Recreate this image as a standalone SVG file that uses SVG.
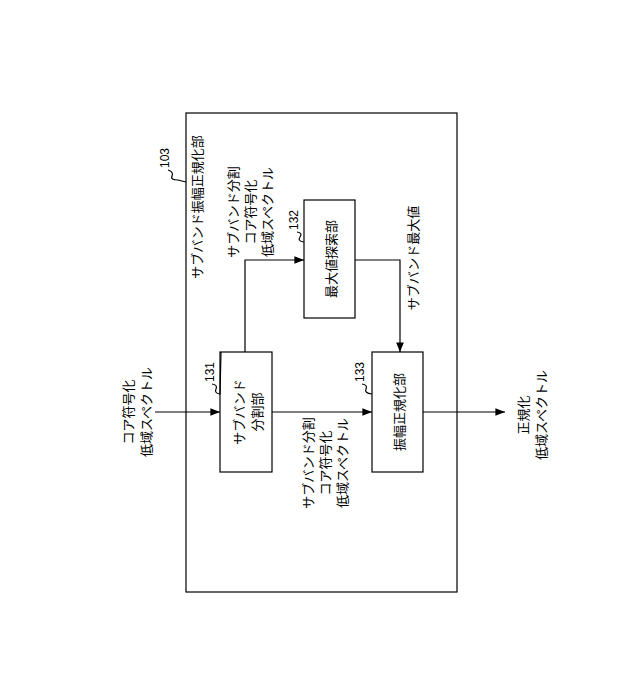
<svg xmlns="http://www.w3.org/2000/svg" width="640" height="689" viewBox="0 0 640 689">
<style>
text{font-family:"Noto Sans CJK JP","Liberation Sans",sans-serif;font-size:13px;fill:#000;text-anchor:middle;dominant-baseline:central}
.n{font-family:"Liberation Sans",sans-serif;font-size:12px}
rect{fill:#fff;stroke:#000;stroke-width:1.2}
.c path,.s{fill:none;stroke:#000;stroke-width:1.2}
</style>
<defs><marker id="a" viewBox="0 0 10 10" refX="10" refY="5" markerWidth="8" markerHeight="8" orient="auto"><path d="M0,1L10,5L0,9z" fill="#000"/></marker></defs>
<rect width="640" height="689" style="fill:#fff;stroke:none"/>
<g id="n103">
<rect x="186" y="113" width="271" height="479"/>
<text transform="translate(196,207) rotate(-90)">サブバンド振幅正規化部</text>
<text class="n" transform="translate(165,158) rotate(-90)">103</text>
<path class="s" d="M168,170 q6,2 4,6 q-2,4 6,4 L186,182"/>
</g>
<g id="n131">
<rect x="220" y="352" width="52" height="120"/>
<text transform="translate(238,412) rotate(-90)">サブバンド</text>
<text transform="translate(256,412) rotate(-90)">分割部</text>
<text class="n" transform="translate(210,372) rotate(-90)">131</text>
<path class="s" d="M212,384 q6,1 4,5 q-2,4 4,5 L221,352"/>
</g>
<g id="n132">
<rect x="304" y="200" width="51" height="118"/>
<text transform="translate(330,259) rotate(-90)">最大値探索部</text>
<text class="n" transform="translate(294,220) rotate(-90)">132</text>
<path class="s" d="M297,232 q6,1 3,5 q-3,4 4,5"/>
</g>
<g id="n133">
<rect x="372" y="352" width="51" height="120"/>
<text transform="translate(398,412) rotate(-90)">振幅正規化部</text>
<text class="n" transform="translate(360,372) rotate(-90)">133</text>
<path class="s" d="M362,384 q6,1 4,5 q-2,4 6,5"/>
</g>
<g id="labels">
<text transform="translate(127,412) rotate(-90)">コア符号化</text>
<text transform="translate(145,412) rotate(-90)">低域スペクトル</text>
<text transform="translate(232,212) rotate(-90)">サブバンド分割</text>
<text transform="translate(249,212) rotate(-90)">コア符号化</text>
<text transform="translate(266,212) rotate(-90)">低域スペクトル</text>
<text transform="translate(412,258) rotate(-90)">サブバンド最大値</text>
<text transform="translate(307,463) rotate(-90)">サブバンド分割</text>
<text transform="translate(324,463) rotate(-90)">コア符号化</text>
<text transform="translate(341,463) rotate(-90)">低域スペクトル</text>
<text transform="translate(522,415) rotate(-90)">正規化</text>
<text transform="translate(540,415) rotate(-90)">低域スペクトル</text>
</g>
<g id="connectors" class="c">
<path d="M155,412H220" marker-end="url(#a)"/>
<path d="M272,412H372" marker-end="url(#a)"/>
<path d="M245,352V260H304" marker-end="url(#a)"/>
<path d="M355,260H400V352" marker-end="url(#a)"/>
<path d="M423,412H505" marker-end="url(#a)"/>
</g>
</svg>
